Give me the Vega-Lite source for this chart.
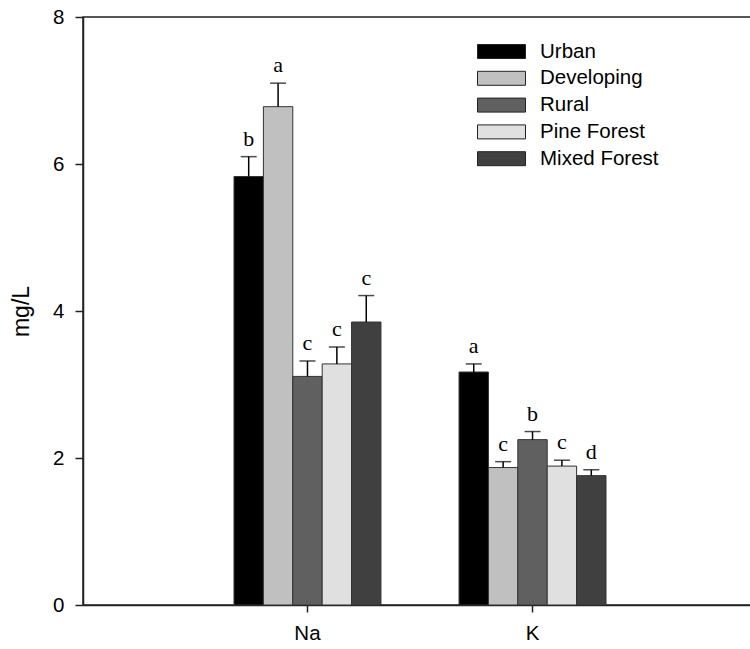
{
  "$schema": "https://vega.github.io/schema/vega-lite/v6.json",
  "width": 674,
  "height": 588,
  "autosize": {"type": "none"},
  "padding": {"left": 83, "top": 17, "right": 0, "bottom": 44},
  "config": {
    "view": {"stroke": "#222", "strokeWidth": 1.5},
    "font": "Liberation Sans"
  },
  "data": {
    "values": [
      {"element": "Na", "site": "Urban", "mean": 5.83, "upper": 6.10, "letter": "b"},
      {"element": "Na", "site": "Developing", "mean": 6.78, "upper": 7.10, "letter": "a"},
      {"element": "Na", "site": "Rural", "mean": 3.11, "upper": 3.32, "letter": "c"},
      {"element": "Na", "site": "Pine Forest", "mean": 3.28, "upper": 3.51, "letter": "c"},
      {"element": "Na", "site": "Mixed Forest", "mean": 3.85, "upper": 4.21, "letter": "c"},
      {"element": "K", "site": "Urban", "mean": 3.17, "upper": 3.28, "letter": "a"},
      {"element": "K", "site": "Developing", "mean": 1.87, "upper": 1.95, "letter": "c"},
      {"element": "K", "site": "Rural", "mean": 2.25, "upper": 2.36, "letter": "b"},
      {"element": "K", "site": "Pine Forest", "mean": 1.89, "upper": 1.97, "letter": "c"},
      {"element": "K", "site": "Mixed Forest", "mean": 1.76, "upper": 1.84, "letter": "d"}
    ]
  },
  "encoding": {
    "x": {
      "field": "element",
      "type": "nominal",
      "sort": ["Na", "K"],
      "scale": {"paddingInner": 0.347, "paddingOuter": 0.671},
      "axis": {
        "title": null,
        "labelAngle": 0,
        "labelFontSize": 20.5,
        "labelColor": "#000",
        "labelPadding": 11,
        "tickSize": 7,
        "tickColor": "#222",
        "tickWidth": 1.5,
        "domainColor": "#222",
        "domainWidth": 1.5
      }
    },
    "xOffset": {
      "field": "site",
      "type": "nominal",
      "sort": ["Urban", "Developing", "Rural", "Pine Forest", "Mixed Forest"],
      "scale": {"paddingInner": 0, "paddingOuter": 0}
    }
  },
  "layer": [
    {
      "mark": {"type": "bar", "stroke": "#333", "strokeWidth": 1},
      "encoding": {
        "y": {
          "field": "mean",
          "type": "quantitative",
          "scale": {"domain": [0, 8], "nice": false},
          "axis": {
            "title": "mg/L",
            "values": [0, 2, 4, 6, 8],
            "format": "d",
            "grid": false,
            "tickSize": 8,
            "tickColor": "#222",
            "tickWidth": 1.5,
            "domainColor": "#222",
            "domainWidth": 1.5,
            "labelFontSize": 20.5,
            "labelColor": "#000",
            "labelPadding": 11,
            "titleFontSize": 23,
            "titleFontWeight": "normal",
            "titleColor": "#000",
            "titleAngle": -90,
            "titleX": -62,
            "titleY": 294,
            "titleAlign": "center",
            "titleBaseline": "middle"
          }
        },
        "color": {
          "field": "site",
          "type": "nominal",
          "sort": ["Urban", "Developing", "Rural", "Pine Forest", "Mixed Forest"],
          "scale": {
            "domain": ["Urban", "Developing", "Rural", "Pine Forest", "Mixed Forest"],
            "range": ["#000000", "#c0c0c0", "#606060", "#e0e0e0", "#404040"]
          },
          "legend": {
            "orient": "none",
            "legendX": 404,
            "legendY": 20,
            "title": null,
            "symbolType": "M-1.714,-0.5H1.714V0.5H-1.714Z",
            "symbolSize": 784,
            "symbolStrokeColor": "#222",
            "symbolStrokeWidth": 1,
            "symbolOpacity": 1,
            "labelFontSize": 20.5,
            "labelColor": "#000",
            "labelOffset": 24,
            "rowPadding": 1.8
          }
        }
      }
    },
    {
      "mark": {"type": "rule", "color": "#000", "strokeWidth": 1.5},
      "encoding": {
        "y": {"field": "mean", "type": "quantitative"},
        "y2": {"field": "upper"}
      }
    },
    {
      "mark": {"type": "tick", "orient": "horizontal", "color": "#000", "size": 16, "thickness": 1.5},
      "encoding": {
        "y": {"field": "upper", "type": "quantitative"}
      }
    },
    {
      "mark": {"type": "text", "font": "Liberation Serif", "fontSize": 22, "dy": -11, "baseline": "alphabetic", "color": "#000"},
      "encoding": {
        "y": {"field": "upper", "type": "quantitative"},
        "text": {"field": "letter"}
      }
    }
  ]
}
